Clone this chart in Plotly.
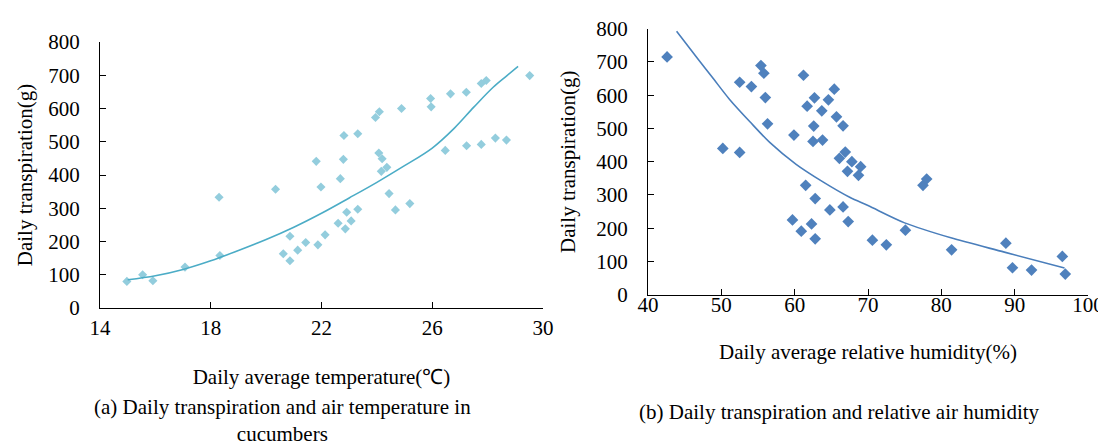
import plotly.graph_objects as go

# ---- Panel (a): temperature vs transpiration ----
temp_x = [14.97, 15.54, 15.91, 17.07, 18.30, 18.33, 20.34, 20.62, 20.86, 20.86,
          21.14, 21.43, 21.87, 22.13, 21.81, 21.98, 22.68, 22.79, 22.81, 23.31,
          22.60, 22.91, 22.86, 23.07, 23.31, 23.95, 24.09, 24.89, 24.07, 24.19,
          24.16, 24.36, 24.44, 24.67, 25.19, 25.94, 25.96, 26.47, 26.66, 27.23,
          27.24, 27.77, 27.77, 27.95, 28.28, 28.68, 29.52]
temp_y = [80, 100, 82, 123, 333, 158, 357, 163, 216, 142,
          174, 197, 190, 220, 441, 364, 389, 447, 519, 524,
          255, 288, 238, 262, 297, 573, 590, 600, 466, 449,
          411, 423, 344, 295, 314, 630, 605, 474, 644, 649,
          488, 492, 675, 684, 511, 505, 699]
temp_fit_x = [15.0, 16.0, 17.0, 18.0, 19.0, 20.0, 21.0, 22.0, 23.0, 24.0, 25.0, 26.0, 26.8, 27.5, 28.2, 28.7, 29.1]
temp_fit_y = [85, 97, 116, 142, 173, 206, 243, 285, 331, 378, 428, 481, 541, 604, 664, 699, 727]

# ---- Panel (b): relative humidity vs transpiration ----
rh_x = [42.6, 50.2, 52.5, 52.5, 54.1, 55.4, 55.8, 56.0, 56.3, 59.9,
        59.7, 60.9, 61.2, 61.5, 61.7, 62.7, 62.6, 62.5, 62.3, 62.8,
        62.8, 63.8, 63.7, 64.8, 64.6, 65.4, 65.7, 66.6, 66.6, 66.1,
        66.9, 67.2, 67.8, 69.0, 68.7, 67.3, 70.6, 72.5, 75.1, 77.5,
        78.0, 81.4, 88.8, 89.7, 92.3, 96.5, 96.9]
rh_y = [715, 440, 428, 639, 626, 689, 666, 593, 514, 480,
        225, 191, 660, 329, 567, 592, 507, 461, 213, 168,
        289, 465, 553, 255, 586, 618, 535, 508, 264, 410,
        429, 371, 400, 385, 359, 220, 164, 150, 194, 329,
        348, 135, 155, 81, 74, 115, 62]
rh_fit_x = [43.9, 46.6, 48.9, 51.1, 53.9, 56.6, 60.2, 63.8, 67.5, 70.0, 75.0, 81.3, 88.6, 96.8]
rh_fit_y = [792, 715, 650, 588, 520, 458, 392, 340, 293, 268, 216, 171, 128, 80]

y_ticks = [0, 100, 200, 300, 400, 500, 600, 700, 800]
temp_ticks = [14, 18, 22, 26, 30]
rh_ticks = [40, 50, 60, 70, 80, 90, 100]

FONT = "Times New Roman, Liberation Serif, serif"
W, H = 1106, 446

fig = go.Figure()
fig.add_trace(go.Scatter(x=temp_x, y=temp_y, mode="markers", xaxis="x", yaxis="y",
                         marker=dict(symbol="diamond", size=7, color="#93CDDD"),
                         showlegend=False))
fig.add_trace(go.Scatter(x=temp_fit_x, y=temp_fit_y, mode="lines", xaxis="x", yaxis="y",
                         line=dict(color="#4BACC6", width=1.6, shape="spline", smoothing=1.0),
                         showlegend=False))
fig.add_trace(go.Scatter(x=rh_x, y=rh_y, mode="markers", xaxis="x2", yaxis="y2",
                         marker=dict(symbol="diamond", size=9, color="#4F81BD"),
                         showlegend=False))
fig.add_trace(go.Scatter(x=rh_fit_x, y=rh_fit_y, mode="lines", xaxis="x2", yaxis="y2",
                         line=dict(color="#4A7EBB", width=1.6, shape="spline", smoothing=0.8),
                         showlegend=False))

def px_x(p):
    return p / W

def px_y(p):
    return (H - p) / H

axis_common = dict(showgrid=False, zeroline=False, showline=True, linecolor="black",
                   linewidth=1.3, ticks="inside", ticklen=6, tickcolor="black",
                   tickwidth=1.3, automargin=False,
                   tickfont=dict(family=FONT, size=21, color="black"))

TITLE_FONT = dict(family=FONT, size=21, color="black")

fig.update_layout(
    width=W, height=H,
    margin=dict(l=0, r=0, t=0, b=0),
    paper_bgcolor="white", plot_bgcolor="white",
    font=dict(family=FONT, color="black"),
    xaxis=dict(domain=[px_x(92), px_x(535)], range=[14, 30], tickvals=temp_ticks,
               anchor="y", ticklabelstandoff=1,
               title=dict(text="Daily average temperature(℃)", standoff=29, font=TITLE_FONT),
               **axis_common),
    yaxis=dict(domain=[px_y(300), px_y(34)], range=[0, 800], tickvals=y_ticks,
               anchor="x", ticklabelstandoff=15,
               title=dict(text="Daily transpiration(g)", standoff=9, font=TITLE_FONT),
               **axis_common),
    xaxis2=dict(domain=[px_x(640), px_x(1080)], range=[40, 100], tickvals=rh_ticks,
                anchor="y2", ticklabelstandoff=-9,
                title=dict(text="Daily average relative humidity(%)", standoff=28, font=TITLE_FONT),
                **axis_common),
    yaxis2=dict(domain=[px_y(286.7), px_y(20.7)], range=[0, 800], tickvals=y_ticks,
                anchor="x2", ticklabelstandoff=15,
                title=dict(text="Daily transpiration(g)", standoff=14, font=TITLE_FONT),
                **axis_common),
    annotations=[
        dict(text="(a) Daily transpiration and air temperature in<br>cucumbers",
             x=px_x(274), y=px_y(412), xref="paper", yref="paper",
             xanchor="center", yanchor="middle", showarrow=False,
             font=dict(family=FONT, size=21, color="black")),
        dict(text="(b) Daily transpiration and relative air humidity",
             x=px_x(831), y=px_y(404), xref="paper", yref="paper",
             xanchor="center", yanchor="middle", showarrow=False,
             font=dict(family=FONT, size=21, color="black")),
    ],
)

fig.write_html("out.html")
